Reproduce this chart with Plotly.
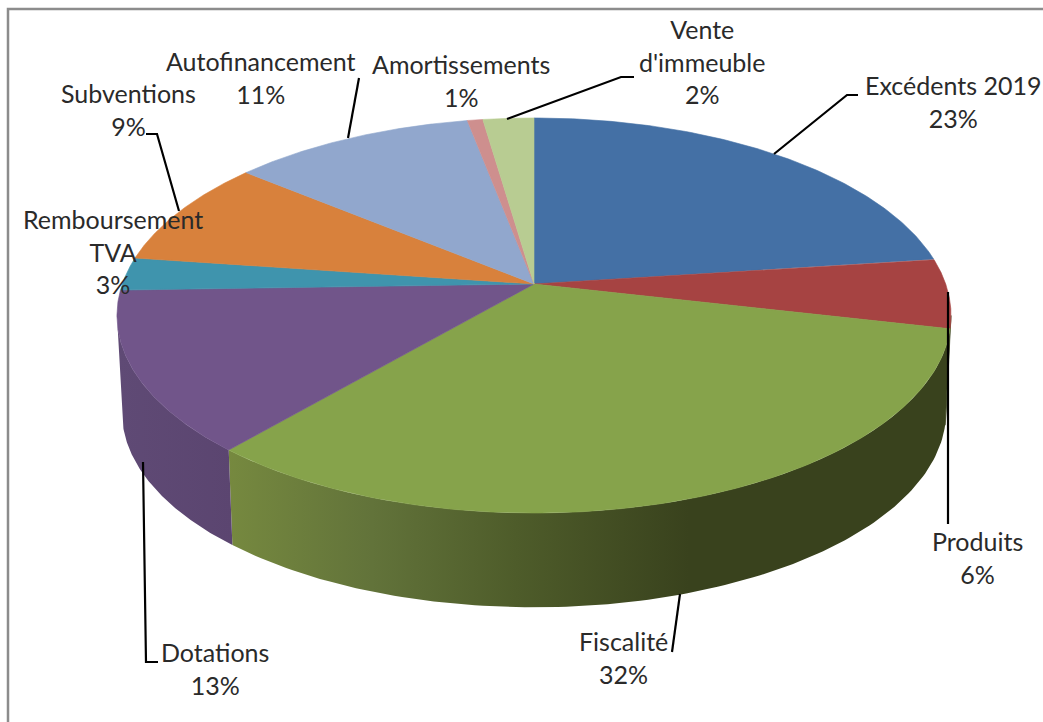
import numpy as np
import plotly.graph_objects as go

# ---- data ----
categories = ["Excédents 2019", "Produits", "Fiscalité", "Dotations", "Remboursement<br>TVA",
              "Subventions", "Autofinancement", "Amortissements", "Vente<br>d'immeuble"]
values = [22.9, 5.7, 32.7, 13.2, 2.7, 8.8, 11.0, 0.7, 2.3]
percent_labels = ["23%", "6%", "32%", "13%", "3%", "9%", "11%", "1%", "2%"]

# ---- styles ----
top_colors = ["#4470A5", "#A64342", "#86A34B", "#71558A", "#3F94AD", "#D8813C", "#91A7CD", "#CE8F8E", "#B8CC92"]
side_colors = ["#2F4E73", "#39421D", "#3A441D", "#5C4672", "#5C4672", "#5C4672", "#65748F", "#8F6362", "#808E65"]
side_gradients = {
    2: dict(type="horizontal", start=228, stop=948,
            colorscale=[[0, "#76893F"], [0.2, "#62733A"], [0.4, "#4E5C2A"], [0.64, "#39421D"], [1, "#39421D"]]),
    3: dict(type="horizontal", start=117, stop=233,
            colorscale=[[0, "#5F4A75"], [1, "#5B4570"]]),
}

# ---- projection of the tilted disc to the page (pixels) ----
CX, CY = 534.0, 284.0
KX, KY, PERSP = 411.7, 192.5, -0.1595
DEPTH_Y, DEPTH_S = 97.0, 0.988
# the wall is only visible between the two silhouette angles of the disc
WALL_FROM, WALL_TO = np.arccos(PERSP), 2 * np.pi - np.arccos(PERSP)


def project(theta, bottom=False):
    u, v = np.sin(theta), -np.cos(theta)
    d = 1 + PERSP * v
    x, y = KX * u / d, KY * v / d
    if bottom:
        return CX + DEPTH_S * x, CY + DEPTH_Y + DEPTH_S * y
    return CX + x, CY + y


edges = np.cumsum([0.0] + values) / sum(values) * 2 * np.pi
fig = go.Figure()


def add_poly(xs, ys, color, grad=None):
    kw = dict(fillgradient=grad) if grad else dict(fillcolor=color)
    fig.add_trace(go.Scatter(x=xs, y=ys, mode="lines", fill="toself",
                             line=dict(width=0.6 if not grad else 0, color=color),
                             hoverinfo="skip", showlegend=False, **kw))


# side walls first, then the top face above them
for i in range(len(values)):
    a, b = max(edges[i], WALL_FROM), min(edges[i + 1], WALL_TO)
    if a >= b:
        continue
    t = np.linspace(a, b, 120)
    xt, yt = project(t)
    xb, yb = project(t, True)
    add_poly(np.r_[xt, xb[::-1], xt[0]], np.r_[yt, yb[::-1], yt[0]], side_colors[i], side_gradients.get(i))
for i in range(len(values)):
    t = np.linspace(edges[i], edges[i + 1], 120)
    xt, yt = project(t)
    add_poly(np.r_[CX, xt, CX], np.r_[CY, yt, CY], top_colors[i])

# leader lines
leaders = [
    [(774, 154), (847, 95), (858, 95)],
    [(948, 292), (948, 524)],
    [(680, 594), (672, 652)],
    [(143, 462), (146, 662), (158, 662)],
    [(179, 211), (157, 134), (146, 134)],
    [(348, 138), (359, 78)],
    [(507, 119), (621, 77), (634, 77)],
]
shapes = [dict(type="path", xref="x", yref="y", line=dict(color="#000000", width=2.2),
               path="M" + " L".join(f"{a},{b}" for a, b in pts)) for pts in leaders]
# chart frame
shapes.append(dict(type="path", xref="x", yref="y", line=dict(color="#8C8C8C", width=2.5),
                   path="M8,724 L8,9 L1045,9"))

# label centres: x, y of the block
label_pos = [(953, 101), (977, 557), (623, 657), (215, 668), (113, 251), (128, 109), (260, 77), (461, 80), (702, 61)]
annotations = [dict(x=x, y=y, xref="x", yref="y", text=f"{c}<br>{p}", showarrow=False, align="center",
                    xanchor="center", yanchor="middle", font=dict(family="Lato", size=25, color="#2A2A2A"))
               for (x, y), c, p in zip(label_pos, categories, percent_labels)]

fig.update_layout(
    width=1043, height=722, margin=dict(l=0, r=0, t=0, b=0),
    paper_bgcolor="white", plot_bgcolor="white", showlegend=False,
    xaxis=dict(range=[0, 1043], visible=False, fixedrange=True),
    yaxis=dict(range=[722, 0], visible=False, fixedrange=True),
    shapes=shapes, annotations=annotations,
)
fig.write_html("out.html", config=dict(displayModeBar=False),
               post_script="document.body.style.margin='0';document.documentElement.style.overflow='hidden';")
